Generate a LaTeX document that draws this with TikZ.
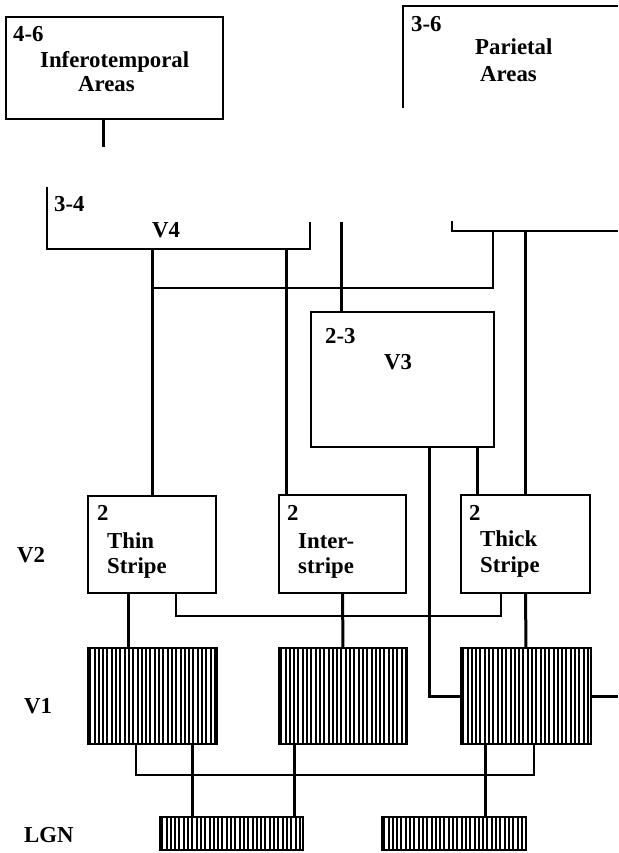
\documentclass[tikz,border=0pt]{standalone}
\usepackage{fontspec}
\setmainfont{Liberation Serif}
\usetikzlibrary{calc}
\tikzset{
  area/.style={draw, line width=1.8pt, inner sep=0pt, outer sep=0pt},
  openarea/.style={area, draw=none},
  hatch/.style={area, path picture={
      \foreach \k in {0,...,35}
        \draw[line width=2pt] ([xshift={2.2pt+\k*4.3pt}]path picture bounding box.north west)
          -- ([xshift={2.2pt+\k*4.3pt}]path picture bounding box.south west);}},
  wire/.style={line width=3pt},
  thinwire/.style={line width=1.8pt},
  lab/.style={font=\fontsize{22.8}{24}\selectfont\bfseries, inner sep=0pt, anchor=base west},
}

\begin{document}
\begin{tikzpicture}[x=1pt, y=-1pt]
  \useasboundingbox (0,0) rectangle (618,853);

  % higher areas
  \node[area, minimum width=217, minimum height=102] (it) at (114.5,68) {};
  \node[openarea, minimum width=215, minimum height=102] (par) at (510.5,57) {};
  \draw[area] (par.south west) -- (par.north west) -- (par.north east);
  \node[lab] (itnum) at (13,42) {4-6};
  \node[lab] (itname) at (40,68) {Inferotemporal};
  \node[lab] (itname2) at (78,92) {Areas};
  \node[lab] (parnum) at (411,32) {3-6};
  \node[lab] (parname) at (475,55) {Parietal};
  \node[lab] (parname2) at (480,82) {Areas};

  % V4 and the box to its right
  \node[openarea, minimum width=263, minimum height=62] (v4) at (178.5,218) {};
  \draw[area] (v4.north west) -- (v4.south west) -- (v4.south east) -- ($(v4.south east)+(0,-27)$);
  \node[openarea, minimum width=166, minimum height=10] (rbox) at (535,226) {};
  \draw[area] (rbox.north west) -- (rbox.south west) -- (rbox.south east);
  \node[lab] (v4num) at (54,211) {3-4};
  \node[lab] (v4name) at (152,237) {V4};

  % V3
  \node[area, minimum width=183, minimum height=135] (v3) at (402.5,379.5) {};
  \node[lab] (v3num) at (325,343) {2-3};
  \node[lab] (v3name) at (384,369) {V3};

  % V2 stripes
  \node[area, minimum width=128, minimum height=97] (thin) at (152,544.5) {};
  \node[area, minimum width=127, minimum height=98] (inter) at (342.5,544) {};
  \node[area, minimum width=129, minimum height=98] (thick) at (525.5,544) {};
  \node[lab] (thinnum) at (97,520) {2};
  \node[lab] (thinname) at (107,548) {Thin};
  \node[lab] (thinname2) at (107,573) {Stripe};
  \node[lab] (internum) at (287,520) {2};
  \node[lab] (intername) at (298,548) {Inter-};
  \node[lab] (intername2) at (298,573) {stripe};
  \node[lab] (thicknum) at (469,520) {2};
  \node[lab] (thickname) at (480,546) {Thick};
  \node[lab] (thickname2) at (480,572) {Stripe};

  % V1 and LGN
  \node[hatch, minimum width=129, minimum height=96] (v1a) at (152.5,696) {};
  \node[hatch, minimum width=128, minimum height=96] (v1b) at (343,696) {};
  \node[hatch, minimum width=130, minimum height=96] (v1c) at (526,696) {};
  \node[hatch, minimum width=143, minimum height=33] (lgna) at (231.5,833.5) {};
  \node[hatch, minimum width=144, minimum height=33] (lgnb) at (454,833.5) {};

  % row labels
  \node[lab] (v2lab) at (17,562) {V2};
  \node[lab] (v1lab) at (24,713) {V1};
  \node[lab] (lgnlab) at (24,842) {LGN};

  % ports
  \coordinate (itend) at (103,147);
  \coordinate (v3top) at (341,222);
  \coordinate (v1cout) at (618,696);
  \coordinate (interin) at ($(inter.north west)+(7,0)$);
  \coordinate (thickin) at ($(thick.north west)+(16,0)$);
  \coordinate (lgnain) at ($(lgna.north west)+(32,0)$);
  \coordinate (lgnain2) at ($(lgna.north east)+(-9,0)$);
  \coordinate (lgnbin) at ($(lgnb.north west)+(103,0)$);

  % thick connections
  \draw[wire] (itend |- it.south) -- (itend);
  \draw[wire] (thin.north |- v4.south) -- (thin.north);
  \draw[wire] (interin |- v4.south) -- (interin);
  \draw[wire] (v3top) -- (v3top |- v3.north);
  \draw[wire] (thick.north |- rbox.south) -- (thick.north);
  \draw[wire] (thickin |- v3.south) -- (thickin);
  \draw[wire] ($(v3.south west)+(118,0)$) |- (v1c.west);
  \draw[wire] (v1c.east) -- (v1cout);
  \draw[wire] ($(thin.south west)+(40,0)$) -- ($(v1a.north west)+(40,0)$);
  \draw[wire] (inter.south) -- (v1b.north);
  \draw[wire] (thick.south) -- (v1c.north);
  \draw[wire] (lgnain |- v1a.south) -- (lgnain);
  \draw[wire] (lgnain2 |- v1b.south) -- (lgnain2);
  \draw[wire] (lgnbin |- v1c.south) -- (lgnbin);

  % thin cross links
  \draw[thinwire] ($(v4.south west)+(105,39)$) -| ($(rbox.south west)+(41,0)$);
  \draw[thinwire] ($(thin.south west)+(88,0)$) -- ++(0,23) -| ($(thick.south west)+(40,0)$);
  \draw[thinwire] ($(v1a.south west)+(48,0)$) -- ++(0,31) -| ($(v1c.south west)+(73,0)$);
\end{tikzpicture}
\end{document}
